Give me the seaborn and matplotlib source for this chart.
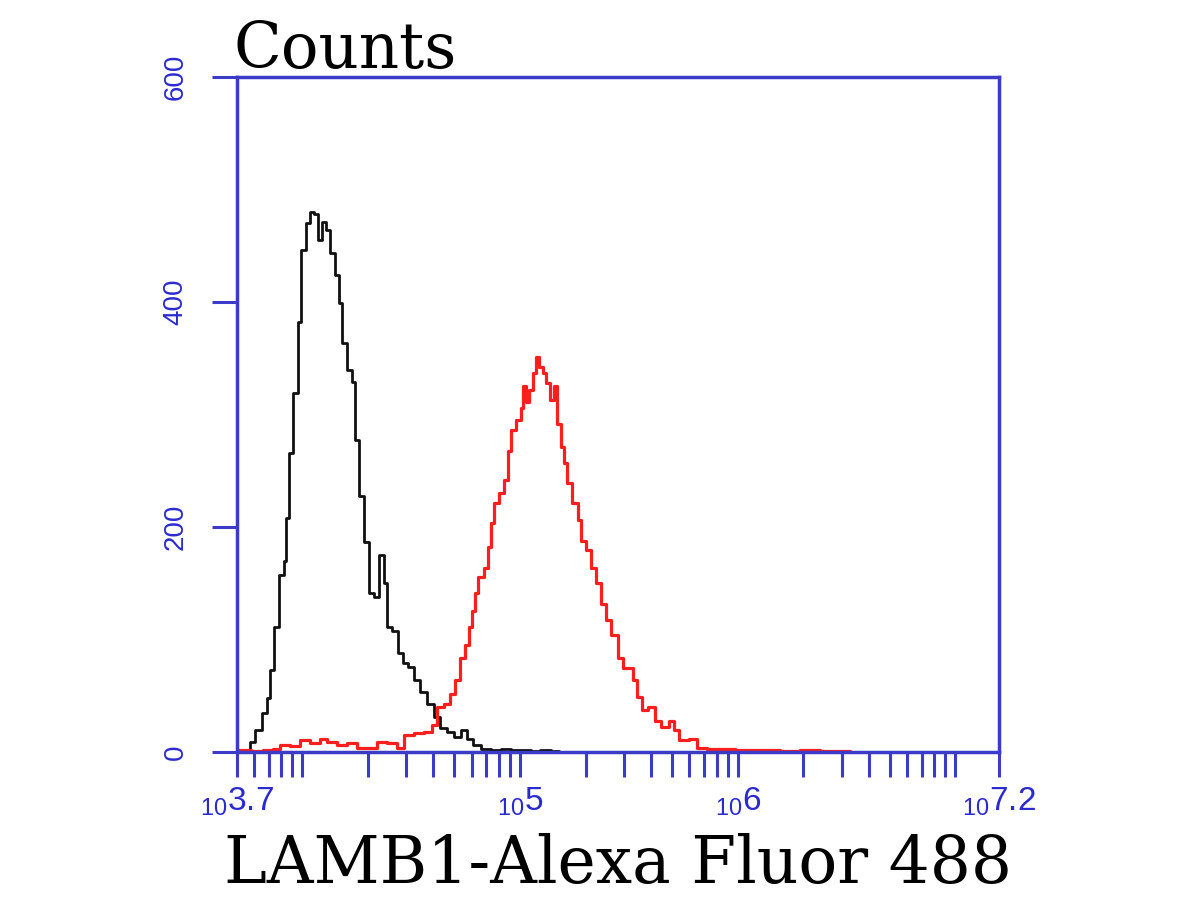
import numpy as np
import pandas as pd
import matplotlib
matplotlib.use("Agg")
import matplotlib.pyplot as plt
from matplotlib.ticker import FixedLocator, LogLocator, NullFormatter
import seaborn as sns

# ---- data (log10 of fluorescence, counts) ----
control_log = [3.718, 3.732, 3.760, 3.783, 3.815, 3.838, 3.851, 3.870, 3.893, 3.916,
               3.925, 3.939, 3.957, 3.980, 3.994, 4.017, 4.035, 4.053, 4.072, 4.090,
               4.108, 4.127, 4.150, 4.168, 4.182, 4.205, 4.228, 4.241, 4.260, 4.283,
               4.306, 4.328, 4.351, 4.374, 4.388, 4.411, 4.439, 4.461, 4.484, 4.512,
               4.539, 4.572, 4.604, 4.631, 4.663, 4.695, 4.728, 4.755, 4.783, 4.819,
               4.865, 4.911, 4.957, 5.003, 5.049, 5.094, 5.140, 5.177]
control_counts = [0, 2, 9, 20, 35, 48, 73, 111, 157, 170,
                  208, 266, 319, 382, 446, 470, 480, 478, 455, 471,
                  464, 444, 424, 399, 364, 340, 329, 277, 228, 187,
                  141, 138, 175, 150, 111, 108, 88, 79, 76, 64,
                  53, 43, 31, 21, 18, 13, 20, 12, 6, 3,
                  2, 3, 2, 2, 1, 2, 1, 0]

lamb1_log = [3.700, 3.764, 3.819, 3.865, 3.897, 3.943, 3.989, 4.035, 4.081, 4.113,
             4.159, 4.205, 4.250, 4.296, 4.342, 4.388, 4.434, 4.466, 4.512, 4.558,
             4.594, 4.617, 4.650, 4.677, 4.700, 4.723, 4.746, 4.764, 4.778, 4.792,
             4.806, 4.833, 4.851, 4.865, 4.879, 4.902, 4.925, 4.943, 4.957, 4.980,
             5.003, 5.012, 5.026, 5.039, 5.058, 5.072, 5.085, 5.104, 5.117, 5.136,
             5.154, 5.172, 5.186, 5.200, 5.218, 5.241, 5.264, 5.278, 5.301, 5.324,
             5.347, 5.370, 5.393, 5.416, 5.448, 5.475, 5.517, 5.539, 5.562, 5.590,
             5.622, 5.649, 5.682, 5.709, 5.732, 5.778, 5.815, 5.861, 5.920, 5.989,
             6.081, 6.195, 6.287, 6.379, 6.471, 6.517]
lamb1_counts = [2, 1, 2, 3, 6, 5, 11, 8, 12, 9,
                6, 8, 4, 4, 9, 8, 4, 15, 17, 18,
                24, 40, 43, 52, 64, 84, 95, 111, 125, 141,
                156, 164, 182, 204, 221, 230, 242, 268, 286, 295,
                306, 325, 311, 322, 337, 351, 342, 337, 328, 313,
                325, 292, 271, 257, 239, 221, 206, 188, 180, 164,
                150, 132, 117, 104, 84, 75, 64, 49, 37, 40,
                28, 22, 28, 20, 11, 12, 4, 3, 3, 2,
                2, 1, 2, 1, 1, 0]

sample_names = ["Isotype control", "LAMB1"]
line_colors = ["#111111", "#ff1e1e"]

xtick_exponents = [3.7, 5, 6, 7.2]
xtick_labels = [r"$_{10}3.7$", r"$_{10}5$", r"$_{10}6$", r"$_{10}7.2$"]
ytick_values = [0, 200, 400, 600]

x_label = "LAMB1-Alexa Fluor 488"
y_label = "Counts"

# ---- build long table ----
df = pd.concat([
    pd.DataFrame({"intensity": 10 ** np.array(control_log), "count": control_counts,
                  "sample": sample_names[0]}),
    pd.DataFrame({"intensity": 10 ** np.array(lamb1_log), "count": lamb1_counts,
                  "sample": sample_names[1]}),
], ignore_index=True)

sns.set_style("white")
plt.rcParams["font.family"] = ["DejaVu Sans"]
plt.rcParams["mathtext.fontset"] = "custom"
plt.rcParams["mathtext.rm"] = "Liberation Sans"
plt.rcParams["mathtext.it"] = "Liberation Sans"
plt.rcParams["mathtext.bf"] = "Liberation Sans:bold"

axis_blue = "#3b3bc8"
label_blue = "#2a2ad0"

fig = plt.figure(figsize=(12, 9), dpi=100)
ax = fig.add_axes([237 / 1200, 148 / 900, 762 / 1200, 675 / 900])

sns.lineplot(data=df, x="intensity", y="count", hue="sample",
             palette=dict(zip(sample_names, line_colors)),
             estimator=None, sort=True, legend=False,
             drawstyle="steps-post", linewidth=2.0, ax=ax)
for ln, lw in zip(ax.get_lines(), [2.0, 2.3]):
    ln.set_linewidth(lw)

ax.set_xscale("log")
ax.set_xlim(10 ** 3.7, 10 ** 7.2)
ax.set_ylim(0, 600)

ax.xaxis.set_major_locator(FixedLocator([10 ** e for e in xtick_exponents]))
ax.set_xticklabels(xtick_labels)
ax.xaxis.set_minor_locator(LogLocator(base=10, subs=np.arange(1, 10), numticks=100))
ax.xaxis.set_minor_formatter(NullFormatter())

ax.set_yticks(ytick_values)
ax.set_yticklabels([str(v) for v in ytick_values], rotation=90, va="center",
                   family="Liberation Sans", fontsize=20, color=label_blue)

for sp in ax.spines.values():
    sp.set_visible(True)
    sp.set_color(axis_blue)
    sp.set_linewidth(2.5)

ax.tick_params(axis="x", which="both", bottom=True, top=False, direction="out",
               length=18, width=2.2, color=axis_blue, pad=6, labelsize=24,
               labelcolor=label_blue)
ax.tick_params(axis="y", which="major", left=True, right=False, direction="out",
               length=18, width=2.2, color=axis_blue, pad=17)
ax.tick_params(axis="y", which="minor", length=0)

ax.set_xlabel(x_label, family="DejaVu Serif", fontsize=46.5, color="black",
              va="baseline")
ax.xaxis.set_label_coords(0.5, -0.194)
ax.set_ylabel(y_label, family="DejaVu Serif", fontsize=45, color="black",
              rotation=0, ha="left", va="baseline")
ax.yaxis.set_label_coords(-0.005, 1.013)

ax.grid(False)
fig.savefig("out.png", dpi=100, facecolor="white")
